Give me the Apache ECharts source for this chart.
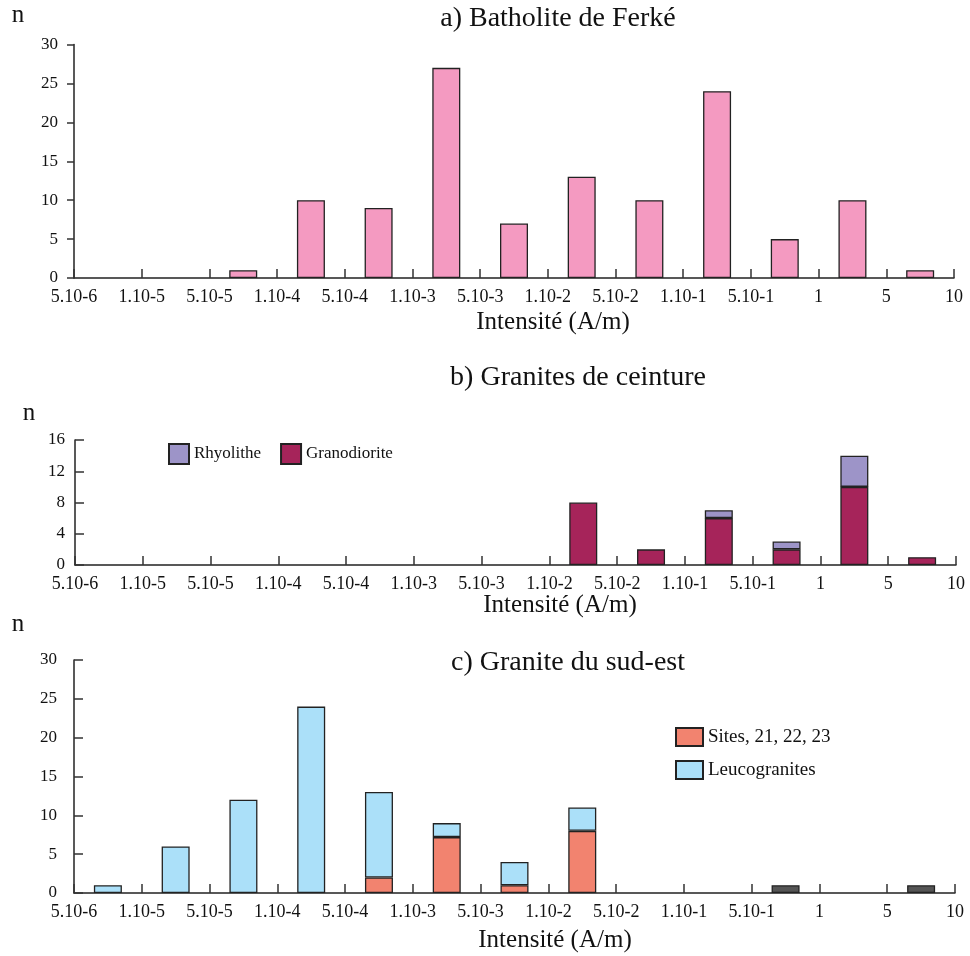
<!DOCTYPE html>
<html>
<head>
<meta charset="utf-8">
<script src="https://cdn.jsdelivr.net/npm/echarts@6/dist/echarts.min.js"></script>
<style>html,body{margin:0;padding:0;background:#fff}#c{width:970px;height:956px}</style>
</head>
<body>
<div id="c"></div>
<script>
// ---- data ----
var tickLabels = ['5.10-6','1.10-5','5.10-5','1.10-4','5.10-4','1.10-3','5.10-3','1.10-2','5.10-2','1.10-1','5.10-1','1','5','10'];
// 13 bins, each between two consecutive tick labels
var bins = tickLabels.slice(0,-1).map(function(t,i){ return t+' – '+tickLabels[i+1]; });
var ferke        = [0,0,1,10,9,27,7,13,10,24,5,10,1];
var granodiorite = [0,0,0,0,0,0,0,8,2,6,2,10,1];
var rhyolithe    = [0,0,0,0,0,0,0,0,0,1,1,4,0];
var sites        = [0,0,0,0,2,7.2,1,8,0,0,0,0,0];
var leuco        = [1,6,12,24,11,1.8,3,3,0,0,0,0,0];
var autres       = [0,0,0,0,0,0,0,0,0,0,1,0,1];

var titles = ['a) Batholite de Ferké','b) Granites de ceinture','c) Granite du sud-est'];
var xName = 'Intensité (A/m)';

// ---- build ----
var FONT = "'Liberation Serif','Times New Roman',serif";
function toData(arr){ return arr.map(function(v){ return v>0 ? v : '-'; }); }

var chart = echarts.init(document.getElementById('c'));
var border = {borderColor:'#222', borderWidth:1.3};
function xAxisVal(gi){
  return {
    type:'value', gridIndex:gi, position:'bottom', min:0, max:tickLabels.length-1, interval:1,
    axisLine:{lineStyle:{color:'#222',width:1.5}},
    axisTick:{inside:true,length:9,lineStyle:{color:'#333',width:1.5}},
    axisLabel:{margin:10,color:'#111',fontFamily:FONT,fontSize:18,formatter:function(v){return tickLabels[Math.round(v)];}},
    splitLine:{show:false}
  };
}
function xAxisCat(gi){
  return {type:'category', gridIndex:gi, position:'bottom', data:bins, show:false, boundaryGap:true};
}
function yAxis(gi,max,interval,inside,margin){
  return {
    type:'value', gridIndex:gi, min:0, max:max, interval:interval,
    axisLine:{show:true,lineStyle:{color:'#222',width:1.5}},
    axisTick:{show:true,inside:inside,length:inside?9:7,lineStyle:{color:'#333',width:1.5}},
    axisLabel:{margin:margin,color:'#111',fontFamily:FONT,fontSize:17},
    splitLine:{show:false}
  };
}
function bar(name,gi,arr,color,stack){
  return {type:'bar',name:name,xAxisIndex:3+gi,yAxisIndex:gi,stack:stack,barWidth:28,
    data:toData(arr),itemStyle:Object.assign({color:color},border)};
}
function txt(x,y,s,size){
  return {type:'text',x:x,y:y,style:{text:s,fontFamily:FONT,fontSize:size,fill:'#111',align:'center',verticalAlign:'middle'}};
}

chart.setOption({
  animation:false,
  backgroundColor:'#fff',
  grid:[
    {left:74,right:16,top:44.5,height:233.5},
    {left:75,right:14,top:440,height:125},
    {left:74,right:15,top:660,height:233}
  ],
  xAxis:[xAxisVal(0),xAxisVal(1),xAxisVal(2),xAxisCat(0),xAxisCat(1),xAxisCat(2)],
  yAxis:[yAxis(0,30,5,false,16),yAxis(1,16,4,true,10),yAxis(2,30,5,true,17)],
  legend:[
    {data:['Rhyolithe','Granodiorite'],orient:'horizontal',left:168,top:443,padding:0,itemWidth:20,itemHeight:20,itemGap:19,
     icon:'rect',textStyle:{fontFamily:FONT,fontSize:17,color:'#111'},selectedMode:false},
    {data:['Sites, 21, 22, 23','Leucogranites'],orient:'vertical',left:675,top:727,padding:0,itemWidth:27,itemHeight:18,itemGap:13,
     icon:'rect',textStyle:{fontFamily:FONT,fontSize:19,color:'#111'},selectedMode:false}
  ],
  series:[
    bar('Ferké',0,ferke,'#F49AC1','a'),
    bar('Granodiorite',1,granodiorite,'#A6245A','b'),
    bar('Rhyolithe',1,rhyolithe,'#9D94C8','b'),
    bar('Sites, 21, 22, 23',2,sites,'#F2836F','c'),
    bar('Leucogranites',2,leuco,'#ABE0F9','c'),
    bar('Autres',2,autres,'#555555','c')
  ],
  graphic:[
    txt(558,19,titles[0],28),
    txt(578,378,titles[1],28),
    txt(568,663,titles[2],28),
    txt(553,322,xName,25),
    txt(560,605,xName,25),
    txt(555,940,xName,25),
    txt(18,15,'n',25),
    txt(29,413,'n',25),
    txt(18,624,'n',25)
  ]
});
</script>
</body>
</html>
